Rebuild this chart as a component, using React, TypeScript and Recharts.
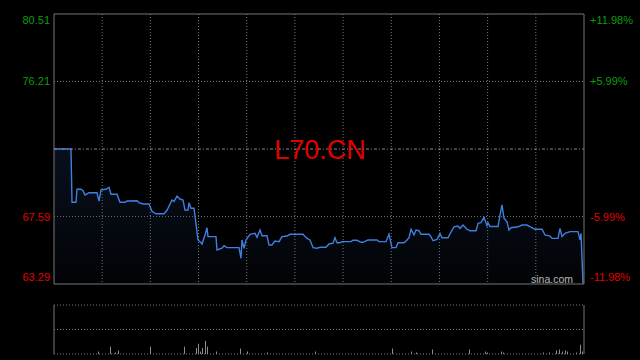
import React from "react";
import {
  ComposedChart,
  Area,
  Bar,
  XAxis,
  YAxis,
  CartesianGrid,
  ReferenceLine,
} from "recharts";

// ---- data ----
const PREV_CLOSE = 71.9;
const SESSION_LEN = 530;
const GRID_DIVISIONS = 11;

const priceTimes = [
  0, 17, 18, 22, 23, 27, 29, 31, 35, 43, 45, 47, 52, 55, 57, 63, 66, 71, 73, 83,
  85, 89, 95, 98, 102, 110, 113, 118, 120, 123, 126, 129, 131, 134, 135, 137, 140, 144, 146, 148,
  151, 153, 154, 162, 163, 168, 170, 173, 185, 187, 188, 190, 192, 196, 201, 203, 206, 208, 213, 215,
  218, 221, 225, 228, 233, 236, 249, 253, 256, 259, 263, 266, 272, 275, 279, 281, 283, 286, 288, 297,
  299, 303, 307, 309, 314, 323, 325, 332, 334, 335, 338, 342, 344, 350, 353, 355, 357, 360, 362, 365,
  367, 375, 377, 379, 383, 386, 388, 394, 398, 400, 404, 406, 409, 413, 416, 422, 424, 427, 430, 433,
  434, 436, 444, 446, 448, 450, 453, 455, 457, 464, 468, 473, 481, 488, 491, 496, 498, 504, 506, 508,
  511, 516, 524, 526, 527, 529,
];
const priceValues = [
  71.9, 71.9, 68.5, 68.5, 69.33, 69.33, 69.24, 68.97, 69.11, 69.11, 68.58, 69.29, 69.33, 69.46, 69.01, 69.01, 68.5, 68.5, 68.58, 68.6,
  68.48, 68.39, 68.39, 67.93, 67.77, 67.77, 67.99, 68.65, 68.56, 68.9, 68.71, 68.65, 68.01, 68.01, 68.48, 68.12, 68.12, 66.1, 65.99, 65.84,
  66.42, 66.88, 66.31, 66.31, 65.46, 65.57, 65.73, 65.61, 65.61, 64.93, 66.1, 65.57, 66.1, 66.46, 66.52, 66.27, 66.73, 66.37, 66.37, 65.78,
  65.78, 66.03, 65.99, 66.31, 66.35, 66.46, 66.46, 66.2, 66.1, 65.61, 65.57, 65.63, 65.63, 65.84, 65.89, 66.24, 65.92, 65.92, 65.99, 65.99,
  66.08, 66.08, 65.95, 65.95, 66.1, 66.1, 65.99, 65.99, 66.31, 66.46, 65.61, 65.61, 65.92, 65.92, 66.1, 66.24, 66.78, 66.42, 66.73, 66.69,
  66.46, 66.46, 66.31, 66.05, 66.14, 66.52, 66.24, 66.24, 66.73, 66.94, 66.99, 66.84, 67.05, 66.78, 66.69, 66.69, 67.16, 67.2, 67.54, 67.01,
  67.2, 66.96, 66.96, 67.69, 68.33, 67.48, 67.26, 66.73, 66.88, 66.94, 67.05, 67.05, 66.78, 66.78, 66.42, 66.35, 66.2, 66.2, 66.84, 66.31,
  66.52, 66.63, 66.63, 66.1, 66.52, 63.33,
];

const volumeTimes = [
  45, 57, 62, 65, 97, 131, 143, 145, 147, 149, 152, 154, 163, 187, 194, 214, 262, 339, 358, 363,
  379, 416, 432, 434, 448, 450, 490, 496, 503, 506, 509, 512, 514, 523, 527, 529,
];
const volumeValues = [
  5, 15, 3, 7, 15, 15, 12, 21, 5, 12, 27, 15, 5, 11, 5, 3, 5, 11, 5, 3,
  9, 9, 5, 3, 5, 3, 3, 3, 7, 9, 5, 7, 5, 3, 19, 5,
];

const priceTicks = [80.51, 76.21, 71.9, 67.59, 63.29];
const priceTickLabels = ["80.51", "76.21", "", "67.59", "63.29"];
const pctTickLabels = ["+11.98%", "+5.99%", "", "-5.99%", "-11.98%"];
const volumeTicks = [0, 50, 100];
const SYMBOL = "L70.CN";
const SOURCE = "sina.com";

// ---- derived ----
const priceData = priceTimes.map((t, i) => ({ t, p: priceValues[i] }));
const volumeData = volumeTimes.map((t, i) => ({ t, v: volumeValues[i] }));
const xGrid = Array.from({ length: GRID_DIVISIONS - 1 }, (_, i) => ((i + 1) * SESSION_LEN) / GRID_DIVISIONS);
const yMax = priceTicks[0];
const yMin = priceTicks[priceTicks.length - 1];

const FONT = "Arial, 'Liberation Sans', sans-serif";
const GREEN = "#0b9c0b";
const RED = "#e00000";
const GRID = "#7a7a7a";
const BORDER = "#777777";
const LINE = "#3f7fe0";

const tickDy = (v: number) => (v === yMax ? 10 : v === yMin ? -3 : 4);
const tickColor = (v: number) => (v > PREV_CLOSE ? GREEN : RED);

const makeTick = (labels: string[], anchor: "start" | "end") => (props: any) => {
  const { x, y, payload } = props;
  const v = payload.value;
  const idx = priceTicks.findIndex((p) => Math.abs(p - v) < 1e-6);
  const label = idx >= 0 ? labels[idx] : "";
  if (!label) return null;
  return (
    <text x={x} y={y + tickDy(v)} textAnchor={anchor} fill={tickColor(v)} fontSize={11} fontFamily={FONT}>
      {label}
    </text>
  );
};

const LeftTick = makeTick(priceTickLabels, "end");
const RightTick = makeTick(pctTickLabels, "start");

export default function App() {
  return (
    <div style={{ position: "absolute", left: 0, top: 0, width: 640, height: 360, background: "#000", overflow: "hidden" }}>
      <div style={{ position: "absolute", left: 0, top: 0 }}>
        <ComposedChart width={640} height={290} data={priceData} margin={{ top: 14, right: 0, bottom: 6, left: 0 }}>
          <defs>
            <linearGradient id="pfill" x1="0" y1="0" x2="0" y2="1">
              <stop offset="0%" stopColor="#1c3560" stopOpacity={0.5} />
              <stop offset="100%" stopColor="#1c3560" stopOpacity={0.1} />
            </linearGradient>
          </defs>
          <XAxis dataKey="t" type="number" domain={[0, SESSION_LEN]} ticks={xGrid} interval={0} hide allowDataOverflow />
          <YAxis
            yAxisId="left"
            orientation="left"
            width={54}
            domain={[yMin, yMax]}
            ticks={priceTicks}
            interval={0}
            allowDataOverflow
            tickLine={false}
            tickSize={0}
            tickMargin={4}
            axisLine={{ stroke: BORDER, strokeWidth: 1 }}
            tick={<LeftTick />}
          />
          <YAxis
            yAxisId="right"
            orientation="right"
            width={56}
            domain={[yMin, yMax]}
            ticks={priceTicks}
            interval={0}
            allowDataOverflow
            tickLine={false}
            tickSize={0}
            tickMargin={6}
            axisLine={{ stroke: BORDER, strokeWidth: 1 }}
            tick={<RightTick />}
          />
          <CartesianGrid
            yAxisId="left"
            stroke={GRID}
            strokeDasharray="1 2"
            horizontalValues={[priceTicks[1], priceTicks[3]]}
            verticalValues={xGrid}
          />
          <ReferenceLine yAxisId="left" y={yMax} stroke={BORDER} strokeWidth={1} />
          <ReferenceLine yAxisId="left" y={yMin} stroke={BORDER} strokeWidth={1} />
          <ReferenceLine yAxisId="left" y={PREV_CLOSE} stroke="#8a8a8a" strokeDasharray="3 2 1 2" strokeWidth={1} />
          <Area
            yAxisId="left"
            type="linear"
            dataKey="p"
            stroke={LINE}
            strokeWidth={1.4}
            fill="url(#pfill)"
            baseValue={yMin}
            isAnimationActive={false}
            dot={false}
            activeDot={false}
          />
          <ReferenceLine yAxisId="right" y={yMax} stroke="none" />
        </ComposedChart>
      </div>
      <svg width={640} height={290} style={{ position: "absolute", left: 0, top: 0, pointerEvents: "none" }}>
        <text x={320} y={159} textAnchor="middle" fill={RED} fontSize={27} fontFamily={FONT}>
          {SYMBOL}
        </text>
        <text x={573} y={283} textAnchor="end" fill="#b8b8b8" fontSize={10.5} fontFamily={FONT}>
          {SOURCE}
        </text>
      </svg>
      <div style={{ position: "absolute", left: 0, top: 290 }}>
        <ComposedChart width={640} height={70} data={volumeData} margin={{ top: 15, right: 0, bottom: 6, left: 0 }}>
          <XAxis dataKey="t" type="number" domain={[0, SESSION_LEN]} hide allowDataOverflow />
          <YAxis
            yAxisId="left"
            orientation="left"
            width={54}
            domain={[0, volumeTicks[2]]}
            ticks={volumeTicks}
            tick={false}
            tickLine={false}
            axisLine={{ stroke: BORDER, strokeWidth: 1 }}
          />
          <YAxis
            yAxisId="right"
            orientation="right"
            width={56}
            domain={[0, volumeTicks[2]]}
            ticks={volumeTicks}
            tick={false}
            tickLine={false}
            axisLine={{ stroke: BORDER, strokeWidth: 1 }}
          />
          <ReferenceLine yAxisId="left" y={volumeTicks[2]} stroke={GRID} strokeDasharray="1 2" />
          <ReferenceLine yAxisId="left" y={volumeTicks[1]} stroke={GRID} strokeDasharray="1 2" />
          <ReferenceLine yAxisId="left" y={volumeTicks[0]} stroke={GRID} strokeDasharray="1 2" />
          <Bar yAxisId="left" dataKey="v" fill="#8c8c8c" barSize={1} isAnimationActive={false} />
          <ReferenceLine yAxisId="right" y={0} stroke="none" />
        </ComposedChart>
      </div>
    </div>
  );
}
